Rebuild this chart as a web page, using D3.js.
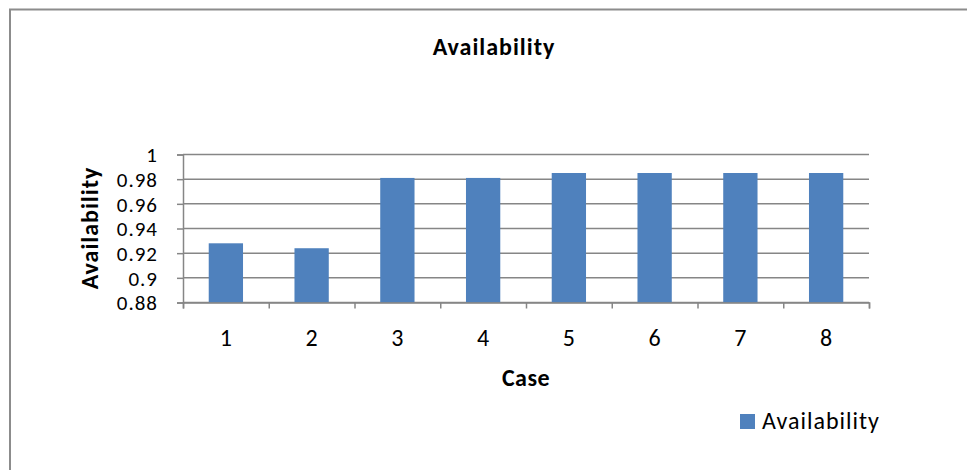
<!DOCTYPE html>
<html>
<head>
<meta charset="utf-8">
<script src="https://cdn.jsdelivr.net/npm/d3@7"></script>
<style>
  html, body { margin: 0; padding: 0; background: #fff; }
  svg { display: block; font-family: Carlito, Lato, "Open Sans", sans-serif; }
</style>
</head>
<body>
<svg id="chart" width="967" height="470"></svg>
<script>
// Availability per case
const cases = ["1", "2", "3", "4", "5", "6", "7", "8"];
const availability = [0.928, 0.924, 0.981, 0.981, 0.985, 0.985, 0.985, 0.985];
const yTicks = [0.88, 0.9, 0.92, 0.94, 0.96, 0.98, 1];
const seriesName = "Availability";
const titleText = "Availability";
const xTitle = "Case";
const yTitle = "Availability";

const svg = d3.select("#chart");
const barColor = "#4F81BD";
const gridColor = "#868686";
const fontSize = 24;

const plot = { left: 183, right: 869, top: 154.5, bottom: 302.5 };

// Chart frame
svg.append("path")
  .attr("d", `M10,480 L10,9.5 L975,9.5`)
  .attr("fill", "none")
  .attr("stroke", "#8c8c8c")
  .attr("stroke-width", 2);

const x = d3.scaleBand()
  .domain(cases)
  .range([plot.left, plot.right])
  .paddingInner(0.6)
  .paddingOuter(0.3);

const xEdge = d3.scaleLinear().domain([0, cases.length]).range([plot.left, plot.right]);

const y = d3.scaleLinear()
  .domain([0.88, 1])
  .range([plot.bottom, plot.top]);

// Horizontal gridlines
svg.append("g")
  .selectAll("line")
  .data(yTicks)
  .join("line")
  .attr("x1", plot.left)
  .attr("x2", plot.right)
  .attr("y1", d => y(d))
  .attr("y2", d => y(d))
  .attr("stroke", gridColor)
  .attr("stroke-width", 1.5);

// Bars
svg.append("g")
  .selectAll("rect")
  .data(availability)
  .join("rect")
  .attr("x", (d, i) => x(cases[i]))
  .attr("width", x.bandwidth())
  .attr("y", d => y(d))
  .attr("height", d => y(0.88) - y(d))
  .attr("fill", barColor);

// Y axis
const yAxis = d3.axisLeft(y)
  .tickValues(yTicks)
  .tickFormat(d => d3.format("")(+d.toFixed(2)))
  .tickSize(6)
  .tickPadding(19);

const gy = svg.append("g")
  .attr("transform", `translate(${plot.left},0)`)
  .call(yAxis);
gy.select(".domain").attr("stroke", gridColor).attr("stroke-width", 1.5);
gy.selectAll(".tick line").attr("stroke", gridColor).attr("stroke-width", 1.5);
gy.selectAll(".tick text")
  .attr("font-size", 21)
  .attr("letter-spacing", 1)
  .attr("fill", "#000")
  .attr("font-family", "Carlito, Lato, sans-serif")
  .attr("dy", "0.35em");

// X axis with ticks at category boundaries
const gx = svg.append("g")
  .attr("transform", `translate(0,${plot.bottom})`)
  .call(d3.axisBottom(xEdge).tickValues(d3.range(cases.length + 1)).tickSize(6).tickFormat(""));
gx.select(".domain").attr("stroke", gridColor).attr("stroke-width", 1.5);
gx.selectAll(".tick line").attr("stroke", gridColor).attr("stroke-width", 1.5);

svg.append("g")
  .selectAll("text")
  .data(cases)
  .join("text")
  .attr("x", d => x(d) + x.bandwidth() / 2)
  .attr("y", 346)
  .attr("text-anchor", "middle")
  .attr("font-size", fontSize)
  .attr("fill", "#000")
  .text(d => d);

// Titles
svg.append("text")
  .attr("x", 494)
  .attr("y", 55)
  .attr("text-anchor", "middle")
  .attr("font-size", fontSize)
  .attr("font-weight", "bold")
  .attr("letter-spacing", 1)
  .text(titleText);

svg.append("text")
  .attr("x", 526)
  .attr("y", 386)
  .attr("text-anchor", "middle")
  .attr("font-size", fontSize)
  .attr("font-weight", "bold")
  .attr("letter-spacing", 0.5)
  .text(xTitle);

svg.append("text")
  .attr("transform", "translate(98,228) rotate(-90)")
  .attr("text-anchor", "middle")
  .attr("font-size", fontSize)
  .attr("font-weight", "bold")
  .attr("letter-spacing", 1)
  .text(yTitle);

// Legend
const legend = svg.append("g").attr("transform", "translate(740,414)");
legend.append("rect").attr("width", 15).attr("height", 15).attr("fill", barColor);
legend.append("text")
  .attr("x", 22)
  .attr("y", 15)
  .attr("font-size", fontSize)
  .attr("fill", "#000")
  .attr("letter-spacing", 1)
  .text(seriesName);
</script>
</body>
</html>
